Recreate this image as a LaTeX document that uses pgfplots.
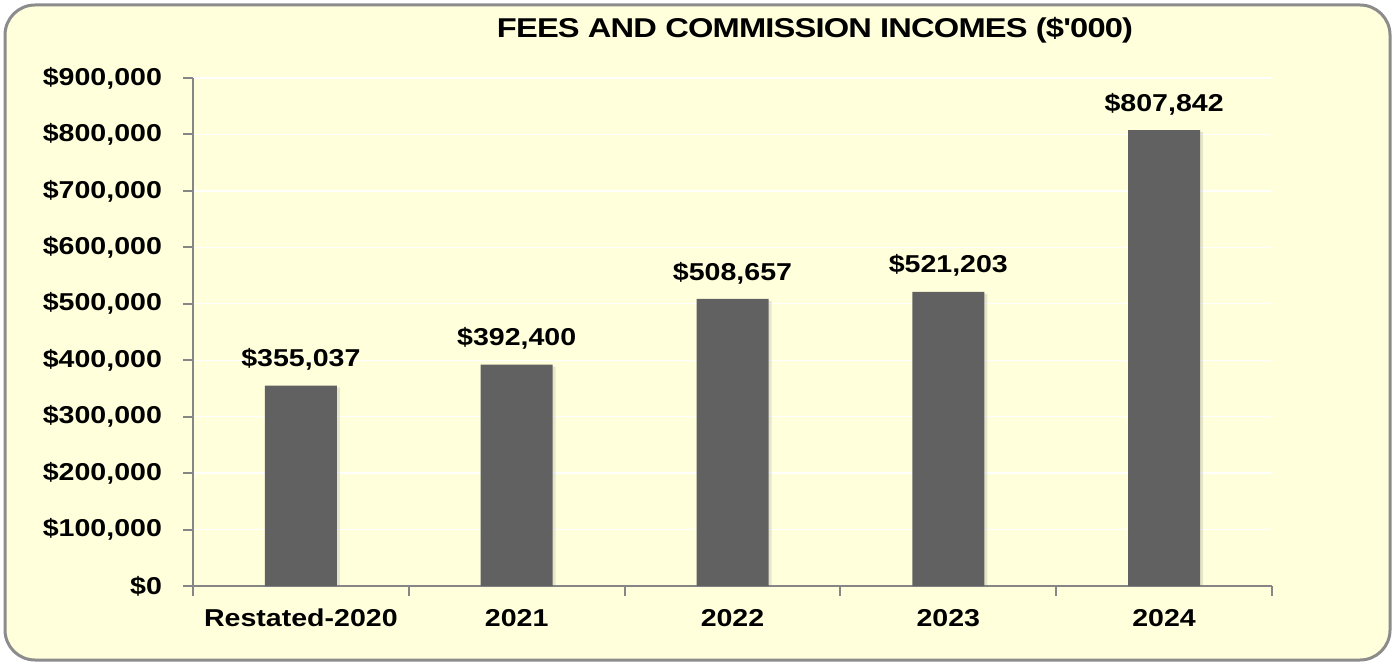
\documentclass[border=0pt]{standalone}
\usepackage{pgfplots}
\pgfplotsset{compat=1.18}
\usepackage{fontspec}
\setmainfont{Liberation Sans}[FakeStretch=1.17]
\newfontfamily\titlefont{Liberation Sans}[FakeStretch=1.2, LetterSpace=-3]
\usetikzlibrary{shadows}
\definecolor{bg}{HTML}{FFFFDC}
\definecolor{barc}{HTML}{616161}
\definecolor{framec}{HTML}{8C8C8C}
\definecolor{axisc}{HTML}{868686}

\begin{document}
\begin{tikzpicture}
% page and rounded panel
\fill[white] (0,0) rectangle (697.5pt,332pt);
\draw[framec, line width=1.5pt, fill=bg, rounded corners=15pt] (2.5pt,2pt) rectangle (695pt,329.5pt);
\node[font=\titlefont\fontsize{13.6}{15}\selectfont\bfseries] at (407.5pt,317pt) {FEES AND COMMISSION INCOMES (\$'000)};
\begin{axis}[
    at={(96.5pt,39pt)}, anchor=south west,
    scale only axis, width=539.5pt, height=254pt,
    xmin=-0.5, xmax=4.5, ymin=0, ymax=900000,
    ytick={0,100000,...,900000},
    scaled ticks=false,
    xtick={0,1,2,3,4},
    xticklabels={Restated-2020,2021,2022,2023,2024},
    minor xtick={-0.5,0.5,1.5,2.5,3.5,4.5},
    major x tick style={draw=none},
    tick align=outside, major tick length=5pt, minor tick length=5pt,
    axis x line*=bottom, axis y line*=left,
    axis line style={-, axisc, line width=1pt},
    tick style={axisc, line width=1pt},
    ymajorgrids, grid style={white, line width=0.7pt},
    /pgf/number format/assume math mode=true,
    /pgf/number format/.cd, fixed, precision=0, 1000 sep={,}, /pgfplots/.cd,
    yticklabel={\$\pgfmathprintnumber{\tick}},
    every tick label/.append style={font=\fontsize{12.2}{14}\selectfont\bfseries},
    yticklabel style={xshift=-7pt},
    xticklabel style={yshift=-3pt},
    ybar, bar width=36pt,
    nodes near coords={\$\pgfmathprintnumber{\pgfplotspointmeta}},
    every node near coord/.append style={font=\fontsize{12.2}{14}\selectfont\bfseries, yshift=4pt},
]
\addplot[fill=barc, draw=none,
    drop shadow={shadow xshift=1.5pt, shadow yshift=-1pt, opacity=0.2, fill=black!50}]
coordinates {
    (0,355037)
    (1,392400)
    (2,508657)
    (3,521203)
    (4,807842)
};
\end{axis}
\end{tikzpicture}
\end{document}
